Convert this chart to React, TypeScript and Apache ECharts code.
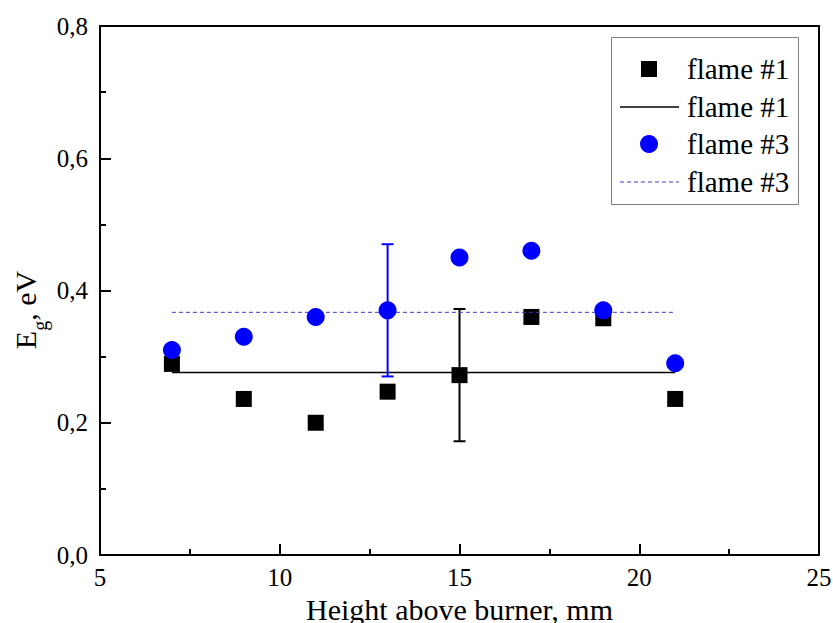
import React, { useEffect, useRef } from 'react';
import * as echarts from 'echarts';

const heights = [7, 9, 11, 13, 15, 17, 19, 21];
const flame1 = [0.289, 0.236, 0.2, 0.247, 0.272, 0.36, 0.358, 0.236];
const flame3 = [0.31, 0.33, 0.36, 0.37, 0.45, 0.46, 0.37, 0.29];
const meanRange = [7, 21];
const flame1Mean = 0.276;
const flame3Mean = 0.367;
// [x, y, low, high]
const flame1Err = [[15, 0.272, 0.172, 0.372]];
const flame3Err = [[13, 0.37, 0.27, 0.47]];
const legendLabels = ['flame #1', 'flame #1', 'flame #3', 'flame #3'];
const xTitle = 'Height above burner, mm';

const FONT = 'Liberation Serif';

const errRender = (color: string) => (params: any, api: any) => {
  const x = api.value(0);
  const lo = api.coord([x, api.value(2)]);
  const hi = api.coord([x, api.value(3)]);
  const half = 6;
  const style = { stroke: color, lineWidth: 2 };
  return {
    type: 'group',
    children: [
      { type: 'line', shape: { x1: lo[0], y1: lo[1], x2: hi[0], y2: hi[1] }, style },
      { type: 'line', shape: { x1: lo[0] - half, y1: lo[1], x2: lo[0] + half, y2: lo[1] }, style },
      { type: 'line', shape: { x1: hi[0] - half, y1: hi[1], x2: hi[0] + half, y2: hi[1] }, style },
    ],
  };
};

export default function App() {
  const ref = useRef<HTMLDivElement>(null);
  useEffect(() => {
    if (!ref.current) return;
    const chart = echarts.init(ref.current, undefined, { renderer: 'svg' });
    const axisCommon = {
      type: 'value' as const,
      axisLine: { show: true, onZero: false, lineStyle: { color: '#000', width: 2 } },
      axisTick: { show: true, inside: true, length: 11, lineStyle: { color: '#000', width: 2 } },
      minorTick: { show: true, splitNumber: 2, length: 6, lineStyle: { color: '#000', width: 2 } },
      splitLine: { show: false },
      minorSplitLine: { show: false },
    };
    const legendRows = [69, 107, 144, 182];
    const lx = 649;
    chart.setOption({
      animation: false,
      backgroundColor: '#fff',
      textStyle: { fontFamily: FONT },
      grid: {
        left: 100,
        top: 26,
        right: 14,
        bottom: 68,
        show: true,
        borderColor: '#000',
        borderWidth: 2,
        containLabel: false,
        outerBoundsMode: 'none',
      },
      xAxis: {
        ...axisCommon,
        min: 5,
        max: 25,
        interval: 5,
        axisLabel: {
          margin: 10,
          fontFamily: FONT,
          fontSize: 25,
          color: '#000',
          showMinLabel: true,
          showMaxLabel: true,
        },
        name: xTitle,
        nameLocation: 'middle',
        nameGap: 34,
        nameTextStyle: { fontFamily: FONT, fontSize: 30, color: '#000' },
      },
      yAxis: {
        ...axisCommon,
        min: 0,
        max: 0.8,
        interval: 0.2,
        axisLabel: {
          margin: 12,
          fontFamily: FONT,
          fontSize: 25,
          color: '#000',
          showMinLabel: true,
          showMaxLabel: true,
          formatter: (v: number) => v.toFixed(1).replace('.', ','),
        },
      },
      series: [
        {
          name: 'flame #1 mean',
          type: 'line',
          data: [[meanRange[0], flame1Mean], [meanRange[1], flame1Mean]],
          symbol: 'none',
          lineStyle: { color: '#000', width: 1.5 },
          z: 2,
        },
        {
          name: 'flame #1 error',
          type: 'custom',
          renderItem: errRender('#000'),
          encode: { x: 0, y: 1 },
          data: flame1Err,
          z: 3,
        },
        {
          name: 'flame #1',
          type: 'scatter',
          symbol: 'rect',
          symbolSize: 16,
          itemStyle: { color: '#000', opacity: 1 },
          data: heights.map((h, i) => [h, flame1[i]]),
          z: 4,
        },
        {
          name: 'flame #3 mean',
          type: 'line',
          data: [[meanRange[0], flame3Mean], [meanRange[1], flame3Mean]],
          symbol: 'none',
          lineStyle: { color: '#3a3ad0', width: 1, type: [4, 3] },
          z: 5,
        },
        {
          name: 'flame #3 error',
          type: 'custom',
          renderItem: errRender('#0000ff'),
          encode: { x: 0, y: 1 },
          data: flame3Err,
          z: 6,
        },
        {
          name: 'flame #3',
          type: 'scatter',
          symbol: 'circle',
          symbolSize: 18,
          itemStyle: { color: '#0000ff', opacity: 1 },
          data: heights.map((h, i) => [h, flame3[i]]),
          z: 7,
        },
      ],
      graphic: [
        {
          type: 'text',
          x: 25,
          y: 310,
          rotation: Math.PI / 2,
          style: {
            text: '{e|E}{s|g}{e|, eV}',
            align: 'center',
            verticalAlign: 'middle',
            fill: '#000',
            fontFamily: FONT,
            rich: {
              e: { fontFamily: FONT, fontSize: 30, lineHeight: 30, verticalAlign: 'top', fill: '#000' },
              s: { fontFamily: FONT, fontSize: 20, lineHeight: 20, verticalAlign: 'top', padding: [20, 0, 0, 0], fill: '#000' },
            },
          },
        },
        {
          type: 'rect',
          shape: { x: 611.5, y: 37.5, width: 187, height: 167 },
          style: { fill: '#fff', stroke: '#808080', lineWidth: 1 },
          z: 10,
        },
        {
          type: 'rect',
          shape: { x: lx - 8, y: legendRows[0] - 8, width: 16, height: 16 },
          style: { fill: '#000' },
          z: 11,
        },
        {
          type: 'line',
          shape: { x1: 620, y1: legendRows[1], x2: 679, y2: legendRows[1] },
          style: { stroke: '#000', lineWidth: 1.5 },
          z: 11,
        },
        {
          type: 'circle',
          shape: { cx: lx, cy: legendRows[2], r: 9 },
          style: { fill: '#0000ff' },
          z: 11,
        },
        {
          type: 'line',
          shape: { x1: 620, y1: legendRows[3], x2: 679, y2: legendRows[3] },
          style: { stroke: '#3a3ad0', lineWidth: 1, lineDash: [4, 3] },
          z: 11,
        },
        ...legendLabels.map((t, i) => ({
          type: 'text',
          x: 687,
          y: legendRows[i],
          style: {
            text: t,
            fontFamily: FONT,
            fontSize: 29,
            fill: '#000',
            align: 'left',
            verticalAlign: 'middle',
          },
          z: 11,
        })),
      ],
    });
    return () => chart.dispose();
  }, []);
  return (
    <div
      ref={ref}
      style={{ position: 'absolute', left: 0, top: 0, width: 833, height: 623, background: '#fff' }}
    />
  );
}
